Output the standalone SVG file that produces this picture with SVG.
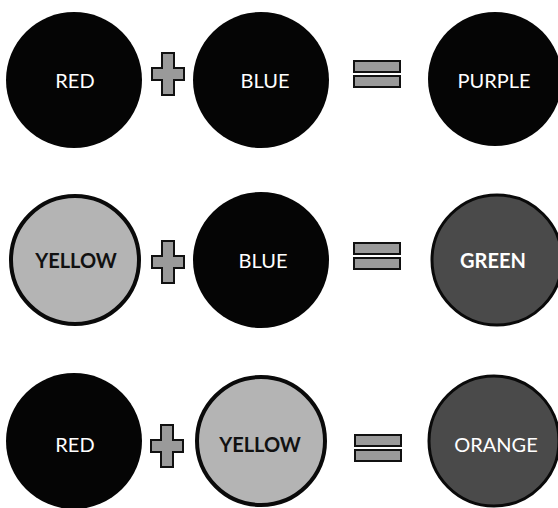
<svg xmlns="http://www.w3.org/2000/svg" width="558" height="508" viewBox="0 0 558 508">
  <defs>
    <style>
      .dark { fill: #050505; }
      .light { fill: #b4b4b4; stroke: #0a0a0a; stroke-width: 4; }
      .mid { fill: #4a4a4a; stroke: #0a0a0a; stroke-width: 3; }
      .lbl { font-family: Lato, "Open Sans", "Liberation Sans", sans-serif; font-size: 20px; text-anchor: middle; fill: #ffffff; }
      .lblDark { font-family: Lato, "Open Sans", "Liberation Sans", sans-serif; font-size: 20px; font-weight: bold; text-anchor: middle; fill: #111111; }
      .op { fill: #9a9a9a; stroke: #111111; stroke-width: 2; }
    </style>
    <g id="plus">
      <path class="op" d="M-6,-21 H6 V-6 H16 V6 H6 V21 H-6 V6 H-16 V-6 H-6 Z"/>
    </g>
    <g id="equals">
      <rect class="op" x="-23" y="-13" width="46" height="11"/>
      <rect class="op" x="-23" y="2" width="46" height="11"/>
    </g>
  </defs>
  <rect width="558" height="508" fill="#ffffff"/>

  <!-- Row 1 -->
  <g id="r1-red"><circle class="dark" cx="74" cy="80" r="68"/><text class="lbl" x="75" y="88">RED</text></g>
  <g id="r1-plus"><use href="#plus" x="168" y="74"/></g>
  <g id="r1-blue"><circle class="dark" cx="261" cy="80" r="68"/><text class="lbl" x="265" y="88">BLUE</text></g>
  <g id="r1-equals"><use href="#equals" x="377" y="74"/></g>
  <g id="r1-purple"><circle class="dark" cx="495" cy="79" r="67"/><text class="lbl" x="494" y="88">PURPLE</text></g>

  <!-- Row 2 -->
  <g id="r2-yellow"><circle class="light" cx="75" cy="260" r="64"/><text class="lblDark" x="76" y="268">YELLOW</text></g>
  <g id="r2-plus"><use href="#plus" x="168" y="262"/></g>
  <g id="r2-blue"><circle class="dark" cx="261" cy="260" r="68"/><text class="lbl" x="263" y="268">BLUE</text></g>
  <g id="r2-equals"><use href="#equals" x="377" y="256"/></g>
  <g id="r2-green"><circle class="mid" cx="497" cy="260" r="65"/><text class="lbl" x="493" y="268" font-weight="bold">GREEN</text></g>

  <!-- Row 3 -->
  <g id="r3-red"><circle class="dark" cx="74" cy="441" r="68"/><text class="lbl" x="75" y="452">RED</text></g>
  <g id="r3-plus"><use href="#plus" x="167" y="446"/></g>
  <g id="r3-yellow"><circle class="light" cx="261" cy="441" r="64"/><text class="lblDark" x="260" y="452">YELLOW</text></g>
  <g id="r3-equals"><use href="#equals" x="378" y="448"/></g>
  <g id="r3-orange"><circle class="mid" cx="494" cy="441" r="65"/><text class="lbl" x="496" y="452">ORANGE</text></g>

  <g id="connectors"/>
</svg>
